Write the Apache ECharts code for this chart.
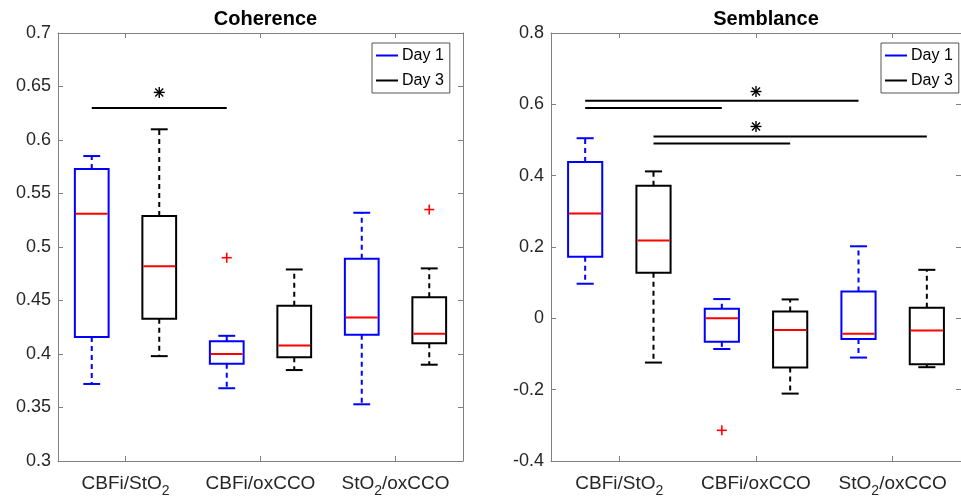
<!DOCTYPE html>
<html><head><meta charset="utf-8">
<script src="https://cdn.jsdelivr.net/npm/echarts@6/dist/echarts.min.js"></script>
<style>html,body{margin:0;padding:0;background:#fff}#c{width:961px;height:498px}</style>
</head><body><div id="c"></div>
<script>
// ---------------- data ----------------
const categories = ['CBFi/StO2', 'CBFi/oxCCO', 'StO2/oxCCO'];
const seriesNames = ['Day 1', 'Day 3'];
// each row: [lower whisker, Q1, median, Q3, upper whisker] per category
const cohDay1 = [[0.372, 0.416, 0.531, 0.573, 0.585], [0.368, 0.391, 0.400, 0.412, 0.417], [0.353, 0.418, 0.434, 0.489, 0.532]];
const cohDay3 = [[0.398, 0.433, 0.482, 0.529, 0.610], [0.385, 0.397, 0.408, 0.445, 0.479], [0.390, 0.410, 0.419, 0.453, 0.480]];
const semDay1 = [[0.097, 0.173, 0.294, 0.438, 0.505], [-0.086, -0.066, 0.000, 0.027, 0.054], [-0.110, -0.058, -0.043, 0.075, 0.202]];
const semDay3 = [[-0.124, 0.128, 0.218, 0.372, 0.412], [-0.211, -0.138, -0.033, 0.019, 0.053], [-0.137, -0.129, -0.034, 0.030, 0.136]];
// outliers: [category index, value]
const cohOutDay1 = [[1, 0.490]];
const cohOutDay3 = [[2, 0.535]];
const semOutDay1 = [[1, -0.314]];
const semOutDay3 = [];
// significance bars: [from box position, to box position, y]  (positions 1..6)
const cohSigLines = [[1, 3, 0.63]];
const cohStars = [[2, 0.6445]];
const semSigLines = [[1, 5, 0.61], [1, 3, 0.59], [2, 6, 0.51], [2, 4, 0.49]];
const semStars = [[3.5, 0.636], [3.5, 0.538]];
// y axes
const cohY = { min: 0.3, max: 0.7, interval: 0.05 };
const semY = { min: -0.4, max: 0.8, interval: 0.2 };
const titles = ['Coherence', 'Semblance'];

// ---------------- styling ----------------
const FONT = '"Liberation Sans", Arial, Helvetica, sans-serif';
const AXIS_C = '#808080';
const LABEL_C = '#262626';
const colors = ['#0000ff', '#000000'];
const RED = '#ff0000';

function boxData(rows, day) { return rows.map((r, i) => [2 * i + 1 + day].concat(r)); }
function outData(rows, day) { return rows.map(r => [2 * r[0] + 1 + day, r[1]]); }

function boxRender(color) {
  return function (params, api) {
    const x = api.value(0);
    const lo = api.value(1), q1 = api.value(2), md = api.value(3), q3 = api.value(4), hi = api.value(5);
    const hw = 0.25, cw = 0.125;
    const a = api.coord([x - hw, q3]), b = api.coord([x + hw, q1]);
    const cx = api.coord([x, 0])[0];
    const yLo = api.coord([x, lo])[1], yHi = api.coord([x, hi])[1];
    const yMd = api.coord([x, md])[1];
    const cl = api.coord([x - cw, lo])[0], cr = api.coord([x + cw, lo])[0];
    const solid = { stroke: color, lineWidth: 2, fill: null };
    const dash = { stroke: color, lineWidth: 2, lineDash: [5, 4], fill: null };
    return {
      type: 'group', children: [
        { type: 'line', shape: { x1: cx, y1: a[1], x2: cx, y2: yHi }, style: dash },
        { type: 'line', shape: { x1: cx, y1: b[1], x2: cx, y2: yLo }, style: dash },
        { type: 'line', shape: { x1: cl, y1: yHi, x2: cr, y2: yHi }, style: solid },
        { type: 'line', shape: { x1: cl, y1: yLo, x2: cr, y2: yLo }, style: solid },
        { type: 'rect', shape: { x: a[0], y: a[1], width: b[0] - a[0], height: b[1] - a[1] }, style: solid },
        { type: 'line', shape: { x1: a[0] + 1, y1: yMd, x2: b[0] - 1, y2: yMd }, style: { stroke: RED, lineWidth: 2 } }
      ]
    };
  };
}
function plusRender(params, api) {
  const p = api.coord([api.value(0), api.value(1)]);
  const r = 5;
  const st = { stroke: RED, lineWidth: 1.6 };
  return { type: 'group', children: [
    { type: 'line', shape: { x1: p[0] - r, y1: p[1], x2: p[0] + r, y2: p[1] }, style: st },
    { type: 'line', shape: { x1: p[0], y1: p[1] - r, x2: p[0], y2: p[1] + r }, style: st }
  ] };
}
function starRender(params, api) {
  const p = api.coord([api.value(0), api.value(1)]);
  const r = 5.5, d = 4;
  const st = { stroke: '#000', lineWidth: 1.4 };
  return { type: 'group', children: [
    { type: 'line', shape: { x1: p[0] - r, y1: p[1], x2: p[0] + r, y2: p[1] }, style: st },
    { type: 'line', shape: { x1: p[0], y1: p[1] - r, x2: p[0], y2: p[1] + r }, style: st },
    { type: 'line', shape: { x1: p[0] - d, y1: p[1] - d, x2: p[0] + d, y2: p[1] + d }, style: st },
    { type: 'line', shape: { x1: p[0] - d, y1: p[1] + d, x2: p[0] + d, y2: p[1] - d }, style: st }
  ] };
}
function sigRender(params, api) {
  const a = api.coord([api.value(0), api.value(2)]);
  const b = api.coord([api.value(1), api.value(2)]);
  return { type: 'line', shape: { x1: a[0], y1: a[1], x2: b[0], y2: b[1] }, style: { stroke: '#000', lineWidth: 2 } };
}

const grids = [
  { left: 58, top: 33, width: 405, bottom: 36 },
  { left: 551, top: 33, width: 420, bottom: 36 }
];
const xAxes = [], yAxes = [];
const tickStyle = { show: true, inside: true, length: 5, lineStyle: { color: AXIS_C, width: 1 } };
function xLabel(v) {
  return v.indexOf('O2') >= 0 ? v.replace(/O2/g, 'O{s|2}') : v + '{s|\u200b}';
}
[cohY, semY].forEach((yr, g) => {
  xAxes.push({ type: 'value', gridIndex: g, min: 0.5, max: 6.5, show: false });
  xAxes.push({
    type: 'category', gridIndex: g, position: 'bottom', data: categories,
    axisLine: { onZero: false, lineStyle: { color: AXIS_C, width: 1 } },
    axisTick: Object.assign({ alignWithLabel: true, interval: 0 }, tickStyle),
    axisLabel: {
      interval: 0, hideOverlap: false,
      margin: 9, color: LABEL_C, fontFamily: FONT, fontSize: 19,
      formatter: xLabel,
      rich: { s: { fontSize: 14, fontFamily: FONT, color: LABEL_C, padding: [14, 0, 0, 0], verticalAlign: 'top' } }
    },
    splitLine: { show: false }
  });
  xAxes.push({
    type: 'category', gridIndex: g, position: 'top', data: categories,
    axisLine: { onZero: false, lineStyle: { color: AXIS_C, width: 1 } },
    axisTick: Object.assign({ alignWithLabel: true, interval: 0 }, tickStyle),
    axisLabel: { show: false }, splitLine: { show: false }
  });
  yAxes.push({
    type: 'value', gridIndex: g, position: 'left', min: yr.min, max: yr.max, interval: yr.interval,
    axisLine: { show: true, onZero: false, lineStyle: { color: AXIS_C, width: 1 } },
    axisTick: tickStyle,
    axisLabel: { margin: 7, color: LABEL_C, fontFamily: FONT, fontSize: 18 },
    splitLine: { show: false }
  });
  yAxes.push({
    type: 'value', gridIndex: g, position: 'right', min: yr.min, max: yr.max, interval: yr.interval,
    axisLine: { show: true, onZero: false, lineStyle: { color: AXIS_C, width: 1 } },
    axisTick: tickStyle,
    axisLabel: { show: false }, splitLine: { show: false }
  });
});

const panels = [
  { d1: cohDay1, d3: cohDay3, o1: cohOutDay1, o3: cohOutDay3, sig: cohSigLines, stars: cohStars },
  { d1: semDay1, d3: semDay3, o1: semOutDay1, o3: semOutDay3, sig: semSigLines, stars: semStars }
];
const series = [];
panels.forEach((p, g) => {
  const xi = g * 3, yi = g * 2;
  [p.d1, p.d3].forEach((rows, day) => {
    series.push({
      type: 'custom', name: seriesNames[day], xAxisIndex: xi, yAxisIndex: yi,
      itemStyle: { color: colors[day] }, renderItem: boxRender(colors[day]),
      encode: { x: 0, y: [1, 2, 3, 4, 5] }, data: boxData(rows, day), silent: true, z: 3
    });
  });
  [p.o1, p.o3].forEach((rows, day) => {
    series.push({
      type: 'custom', name: 'outliers', xAxisIndex: xi, yAxisIndex: yi,
      renderItem: plusRender, encode: { x: 0, y: 1 }, data: outData(rows, day), silent: true, z: 4
    });
  });
  series.push({ type: 'custom', name: 'sig', xAxisIndex: xi, yAxisIndex: yi, renderItem: sigRender,
    encode: { x: [0, 1], y: 2 }, data: p.sig, silent: true });
  series.push({ type: 'custom', name: 'stars', xAxisIndex: xi, yAxisIndex: yi, renderItem: starRender,
    encode: { x: 0, y: 1 }, data: p.stars, silent: true });
});

const legendBase = {
  orient: 'vertical', top: 43, data: seriesNames, selectedMode: false,
  icon: 'rect', itemWidth: 22, itemHeight: 2, itemGap: 8,
  padding: [4, 6, 4, 4], borderColor: '#555', borderWidth: 1, backgroundColor: '#fff',
  textStyle: { fontFamily: FONT, fontSize: 16, lineHeight: 17, color: '#000', padding: [0, 0, 0, -1] }
};

const option = {
  animation: false,
  backgroundColor: '#fff',
  title: titles.map((t, i) => ({
    text: t, left: i === 0 ? 260.5 : 761, top: 4, textAlign: 'center',
    textStyle: { fontFamily: FONT, fontSize: 20, fontWeight: 'bold', color: '#000' }
  })),
  legend: [Object.assign({}, legendBase, { left: 372 }), Object.assign({}, legendBase, { left: 881 })],
  grid: grids,
  xAxis: xAxes,
  yAxis: yAxes,
  series: series
};
const chart = echarts.init(document.getElementById('c'), null, { renderer: 'canvas' });
chart.setOption(option);
</script></body></html>
